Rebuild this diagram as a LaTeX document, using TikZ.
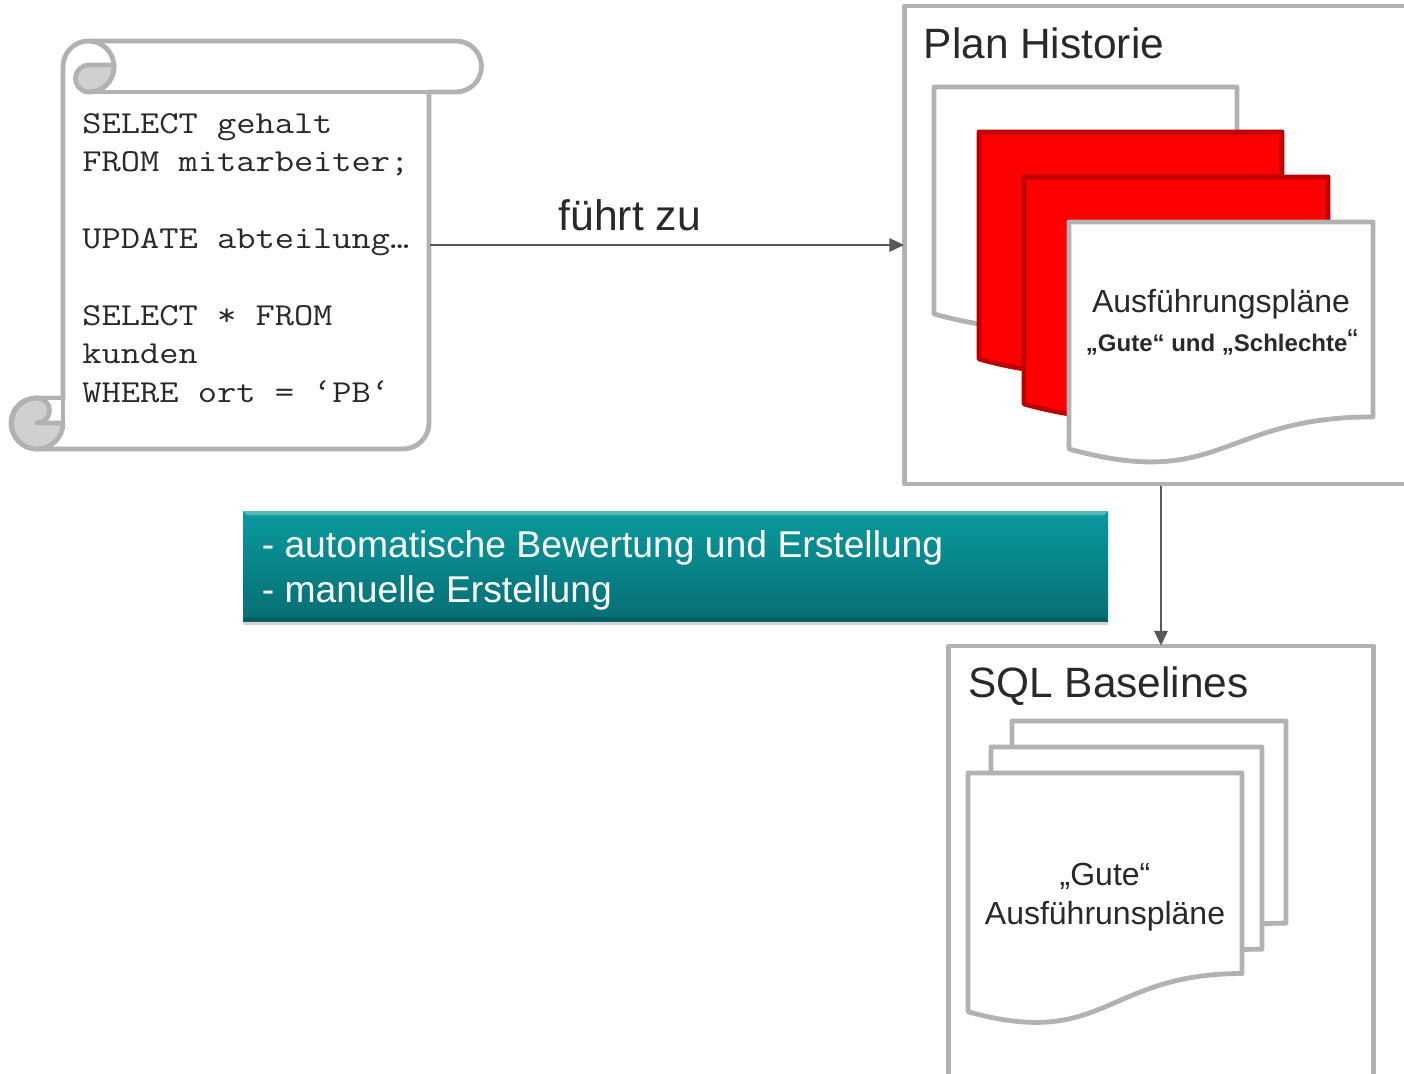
\documentclass[tikz,border=0pt]{standalone}
\usepackage{fontspec}
\setmainfont{Liberation Sans}
\newfontfamily\sqlfont[FakeStretch=1.168]{Latin Modern Mono}
\usepackage{xcolor}
\usetikzlibrary{positioning, calc, arrows.meta, shadows}
\definecolor{SheetGray}{RGB}{178,178,178}
\definecolor{TextGray}{RGB}{41,41,41}
\definecolor{ArrowGray}{RGB}{89,89,89}
\definecolor{PlanRed}{RGB}{255,0,0}
\definecolor{PlanDarkRed}{RGB}{192,0,0}
\definecolor{TealTop}{RGB}{10,154,158}
\definecolor{TealBottom}{RGB}{6,110,115}
\definecolor{CurlGray}{RGB}{208,208,208}
\tikzset{
    sheetline/.style={
        draw=SheetGray, line width=3.6pt, line join=round
    },
    framebox/.style={
        sheetline, fill=white, inner sep=0pt
    },
    whitesheet/.style={
        sheetline, fill=white
    },
    redsheet/.style={
        draw=PlanDarkRed, line width=3.6pt, line join=round, fill=PlanRed
    },
    titletext/.style={
        anchor=base west, inner sep=0pt, text=TextGray, font=\fontsize{31.8}{38}\selectfont
    },
    sheettext/.style={
        anchor=base, inner sep=0pt, text=TextGray, font=\fontsize{24}{30}\selectfont
    },
    flowarrow/.style={
        -{Triangle[length=11pt,width=10pt]}, draw=ArrowGray, line width=1.5pt, shorten >=-1.5pt
    },
    pics/docsheet/.style={
        code={
            \path[pic actions] (0,0) -- (1,0) -- (1,0.802)
                .. controls (0.5,0.802) and (0.5,1.1075) .. (0,#1) -- cycle;
        }
    }
}

\begin{document}
\begin{tikzpicture}[x=0.75pt, y=-0.75pt]
    \useasboundingbox (0,0) rectangle (1404,1074);
    \clip (0,0) rectangle (1404,1074);

    % scroll
    \draw[sheetline, fill=white] (63,66.5) arc (180:270:25.5) -- (456,41) arc (270:450:25.5)
        -- (429,92) -- (429,423) arc (0:90:26) -- (37,449) arc (90:180:26) -- (11,423)
        arc (180:270:25) -- (63,398) -- cycle;
    \draw[sheetline] (429,92) -- (89,92);
    \draw[sheetline] (88.5,41) arc (-90:90:25.5);
    \draw[sheetline, fill=CurlGray] (114,65) -- (89,65) arc (270:90:13.5) arc (90:0:25) -- cycle;
    \draw[sheetline, fill=white] (37,398) -- (63,398) -- (63,423) -- (37,423) -- cycle;
    \draw[sheetline, fill=CurlGray] (37,398) arc (270:90:25.5) arc (90:0:26) -- (37,423)
        arc (90:-90:12.5) -- cycle;
    \node[anchor=north west, inner sep=0pt, align=left, text=TextGray,
        font=\sqlfont\fontsize{24}{28.8}\selectfont] (sqltext) at (82,113) {SELECT gehalt\\
        FROM mitarbeiter;\\[28.8pt]
        UPDATE abteilung…\\[28.8pt]
        SELECT * FROM\\
        kunden\\
        WHERE ort = ‘PB‘};
    \coordinate (scrollout) at (430,245);

    % plan historie
    \node[framebox, minimum width=384.75pt, minimum height=358.5pt] (planbox) at (1161,245) {};
    \node[titletext] (plantitle) at (923.5,59) {Plan Historie};
    \pic[whitesheet, xscale=303, yscale=243] at (934,87) {docsheet=0.934};
    \pic[redsheet, xscale=303, yscale=243] at (979,132) {docsheet=0.934};
    \pic[redsheet, xscale=304, yscale=243] at (1024,177) {docsheet=0.934};
    \pic[whitesheet, xscale=304, yscale=243] at (1069,222) {docsheet=0.934};
    \node[sheettext] (plansheet) at (1221,312) {Ausführungspläne};
    \node[anchor=base, inner sep=0pt, text=TextGray, font=\fontsize{18}{22}\selectfont\bfseries] (plankinds)
        at (1222,351) {„Gute“ und „Schlechte{\fontsize{24}{30}\selectfont\mdseries “}};

    % baselines
    \node[framebox, minimum width=318.75pt, minimum height=340.5pt] (basebox) at (1161,873) {};
    \node[titletext] (basetitle) at (968,697) {SQL Baselines};
    \foreach \sx/\sy/\sw in {1012/721/274, 991/747/271}
        \pic[whitesheet, xscale=\sw, yscale=252] at (\sx,\sy) {docsheet=0.934};
    \pic[whitesheet, xscale=274, yscale=250] at (968,773) {docsheet=0.955};
    \node[sheettext] (basegood) at (1105,885) {„Gute“};
    \node[sheettext] (basesheet) at (1105,924) {Ausführunspläne};

    % teal box
    \node[minimum width=648.75pt, minimum height=82.5pt, outer sep=0pt,
        top color=TealTop, bottom color=TealBottom,
        drop shadow={shadow xshift=0pt, shadow yshift=-3pt, opacity=0.35}] (tealbox) at (675.5,566) {};
    \fill[white, opacity=0.3] (tealbox.north west) -- (tealbox.north east) -- ++(-4,4) -- ($(tealbox.north west)+(4,4)$) -- cycle;
    \fill[black, opacity=0.18] (tealbox.south west) -- (tealbox.south east) -- ++(-4,-4) -- ($(tealbox.south west)+(4,-4)$) -- cycle;
    \node[anchor=west, inner sep=0pt, align=left, text=white,
        font=\fontsize{27.95}{33.75}\selectfont] (tealtext) at (261.5,570)
        {- automatische Bewertung und Erstellung\\- manuelle Erstellung};

    % connectors
    \draw[flowarrow] (scrollout) -- (planbox.west) node[pos=0.423, above=10pt, inner sep=0pt, text=TextGray,
        font=\fontsize{32}{38}\selectfont] (leadsto) {führt zu};
    \draw[flowarrow] (planbox.south) -- (basebox.north);
\end{tikzpicture}
\end{document}
